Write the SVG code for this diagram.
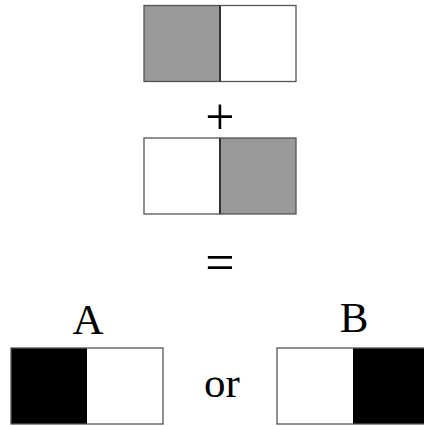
<svg xmlns="http://www.w3.org/2000/svg" width="424" height="426" viewBox="0 0 424 426">
<style>
.b{stroke:#555;stroke-width:1.3}
.m{stroke:#333;stroke-width:2}
.g{fill:#999}
.w{fill:#fff}
.k{fill:#000}
.t{font-family:"Liberation Serif","Times New Roman",serif;font-size:43px;fill:#000;text-anchor:middle}
.s{font-size:52px}
</style>
<rect width="424" height="426" fill="#fff"/>
<g id="top">
<rect class="g" x="144" y="5.5" width="76" height="76"/>
<rect class="w" x="220" y="5.5" width="76" height="76"/>
<rect class="b" x="144" y="5.5" width="152" height="76" fill="none"/>
<line class="m" x1="220" y1="5.5" x2="220" y2="81.5"/>
</g>
<g id="plus"><text class="t s" x="220" y="134">+</text></g>
<g id="second">
<rect class="w" x="144" y="138" width="76" height="76"/>
<rect class="g" x="220" y="138" width="76" height="76"/>
<rect class="b" x="144" y="138" width="152" height="76" fill="none"/>
<line class="m" x1="220" y1="138" x2="220" y2="214"/>
</g>
<g id="equals"><text class="t s" x="220" y="280">=</text></g>
<g id="A">
<text class="t" x="88" y="334">A</text>
<rect class="k" x="11" y="348" width="76" height="76"/>
<rect class="w" x="87" y="348" width="76" height="76"/>
<rect class="b" x="11" y="348" width="152" height="76" fill="none"/>
</g>
<g id="or"><text class="t" x="222" y="397">or</text></g>
<g id="B">
<text class="t" x="354" y="332">B</text>
<rect class="w" x="277" y="348" width="76" height="76"/>
<rect class="k" x="353" y="348" width="76" height="76"/>
<rect class="b" x="277" y="348" width="152" height="76" fill="none"/>
</g>
</svg>
